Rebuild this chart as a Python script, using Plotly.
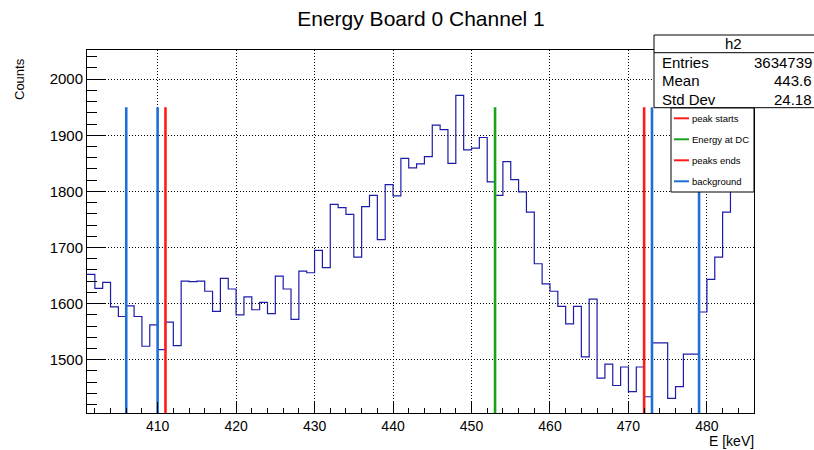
import numpy as np
import plotly.graph_objects as go

# Histogram h2: 1 keV bins from 401 to 486 keV
bin_low = 401
bin_width = 1
counts = [
    1652, 1627, 1638, 1594, 1577, 1596, 1577, 1524, 1562, 1518,   # 401-410
    1567, 1525, 1640, 1639, 1640, 1622, 1586, 1645, 1626, 1580,   # 411-420
    1612, 1589, 1602, 1582, 1649, 1626, 1572, 1658, 1655, 1695,   # 421-430
    1664, 1777, 1771, 1759, 1683, 1773, 1793, 1714, 1812, 1792,   # 431-440
    1859, 1842, 1849, 1862, 1918, 1910, 1850, 1971, 1874, 1877,   # 441-450
    1896, 1817, 1793, 1853, 1821, 1799, 1763, 1671, 1635, 1622,   # 451-460
    1595, 1564, 1595, 1505, 1608, 1467, 1492, 1454, 1487, 1443,   # 461-470
    1487, 1434, 1530, 1530, 1431, 1452, 1510, 1510, 1585, 1643,   # 471-480
    1683, 1763, 1830, 1880, 1920,                                 # 481-485
]

# Marker lines (keV)
peak_start = [411]
energy_dc = [453]
peak_end = [472]
background = [406, 410, 473, 479]
marker_top = 1950

# Stats box entries
stats_name = "h2"
stats_labels = ["Entries", "Mean", "Std Dev"]
stats_values = ["3634739", "443.6", "24.18"]

# Legend entries
legend_labels = ["peak starts", "Energy at DC", "peaks ends", "background"]

x_range = [401, 486]
y_range = [1405, 2052]

RED = "#ff1a1a"
GREEN = "#1aa31a"
BLUE = "#1f6fd6"
HIST = "#1c1ca8"
FONT = "Liberation Sans, Arial, Helvetica, sans-serif"

W, H = 814, 450
L, R, T, B = 87, 754, 50, 413


def px_x(px):
    return (px - L) / (R - L)


def px_y(py):
    return (B - py) / (B - T)


edges = bin_low + bin_width * np.arange(len(counts) + 1)
step_y = counts + [counts[-1]]

fig = go.Figure()

fig.add_trace(go.Scatter(
    x=edges, y=step_y, mode="lines", line_shape="hv",
    line=dict(color=HIST, width=1.2), showlegend=False, hoverinfo="skip",
))


def vlines(xs, color):
    xx, yy = [], []
    for v in xs:
        xx += [v, v, None]
        yy += [y_range[0], marker_top, None]
    fig.add_trace(go.Scatter(
        x=xx, y=yy, mode="lines", line=dict(color=color, width=2.6),
        showlegend=False, hoverinfo="skip",
    ))


vlines(peak_start, RED)
vlines(energy_dc, GREEN)
vlines(peak_end, RED)
vlines(background, BLUE)

shapes = []
annotations = []

# Stats box
sx0, sx1, sy0, sy1 = 654, 816, 35, 107.7
shapes.append(dict(type="rect", xref="paper", yref="paper",
                   x0=px_x(sx0), x1=px_x(sx1), y0=px_y(sy1), y1=px_y(sy0),
                   line=dict(color="black", width=1), fillcolor="white", layer="above"))
shapes.append(dict(type="line", xref="paper", yref="paper",
                   x0=px_x(sx0), x1=px_x(sx1), y0=px_y(52.7), y1=px_y(52.7),
                   line=dict(color="black", width=1), layer="above"))
annotations.append(dict(text=stats_name, xref="paper", yref="paper",
                        x=px_x(733.5), y=px_y(43.8), xanchor="center", yanchor="middle",
                        showarrow=False, font=dict(size=15, color="black", family=FONT)))
for i, (lab, val) in enumerate(zip(stats_labels, stats_values)):
    yy = [62.3, 81.0, 99.3][i]
    annotations.append(dict(text=lab, xref="paper", yref="paper",
                            x=px_x(660), y=px_y(yy), xanchor="left", yanchor="middle",
                            showarrow=False, font=dict(size=15, color="black", family=FONT)))
    annotations.append(dict(text=val, xref="paper", yref="paper",
                            x=px_x(813.5), y=px_y(yy), xanchor="right", yanchor="middle",
                            showarrow=False, font=dict(size=15, color="black", family=FONT)))

# Legend box
lx0, lx1, ly0, ly1 = 671, 754, 108, 192
shapes.append(dict(type="rect", xref="paper", yref="paper",
                   x0=px_x(lx0), x1=px_x(lx1), y0=px_y(ly1), y1=px_y(ly0),
                   line=dict(color="black", width=1), fillcolor="white", layer="above"))
legend_colors = [RED, GREEN, RED, BLUE]
for i, (lab, col) in enumerate(zip(legend_labels, legend_colors)):
    yy = 118.3 + 21 * i
    shapes.append(dict(type="line", xref="paper", yref="paper",
                       x0=px_x(674), x1=px_x(689), y0=px_y(yy), y1=px_y(yy),
                       line=dict(color=col, width=2), layer="above"))
    annotations.append(dict(text=lab, xref="paper", yref="paper",
                            x=px_x(690), y=px_y(yy), xanchor="left", yanchor="middle",
                            showarrow=False, font=dict(size=9.5, color="black", family=FONT)))

# Axis titles
annotations.append(dict(text="Counts", xref="paper", yref="paper",
                        x=px_x(20), y=px_y(56), xanchor="center", yanchor="top",
                        textangle=-90, showarrow=False,
                        font=dict(size=13, color="black", family=FONT)))
annotations.append(dict(text="E [keV]", xref="paper", yref="paper",
                        x=px_x(755), y=px_y(441), xanchor="right", yanchor="middle",
                        showarrow=False, borderpad=0,
                        font=dict(size=14, color="black", family=FONT)))

grid = dict(showgrid=True, gridcolor="black", gridwidth=1, griddash="1px,2px")

fig.update_layout(
    width=W, height=H,
    margin=dict(l=L, r=W - R, t=T, b=H - B, pad=0),
    paper_bgcolor="white", plot_bgcolor="white",
    font=dict(family=FONT, color="black"),
    title=dict(text="Energy Board 0 Channel 1", x=421 / W, xref="container",
               y=1 - 19 / H, yref="container", xanchor="center", yanchor="middle",
               font=dict(size=21, family=FONT, color="black")),
    xaxis=dict(range=x_range, tick0=410, dtick=10, ticks="inside", ticklen=11,
               tickcolor="black", tickwidth=1, showline=True, linecolor="black",
               linewidth=1, mirror=True, zeroline=False,
               tickfont=dict(size=14, family=FONT, color="black"),
               minor=dict(dtick=2, tick0=0, ticks="inside", ticklen=5.5,
                          tickcolor="black", tickwidth=1, showgrid=False),
               **grid),
    yaxis=dict(range=y_range, tick0=0, dtick=100, ticks="inside", ticklen=19,
               tickcolor="black", tickwidth=1, showline=True, linecolor="black",
               linewidth=1, mirror=True, zeroline=False,
               tickfont=dict(size=15, family=FONT, color="black"),
               minor=dict(dtick=20, tick0=0, ticks="inside", ticklen=9.5,
                          tickcolor="black", tickwidth=1, showgrid=False),
               **grid),
    shapes=shapes,
    annotations=annotations,
    showlegend=False,
)

fig.write_html("out.html")
